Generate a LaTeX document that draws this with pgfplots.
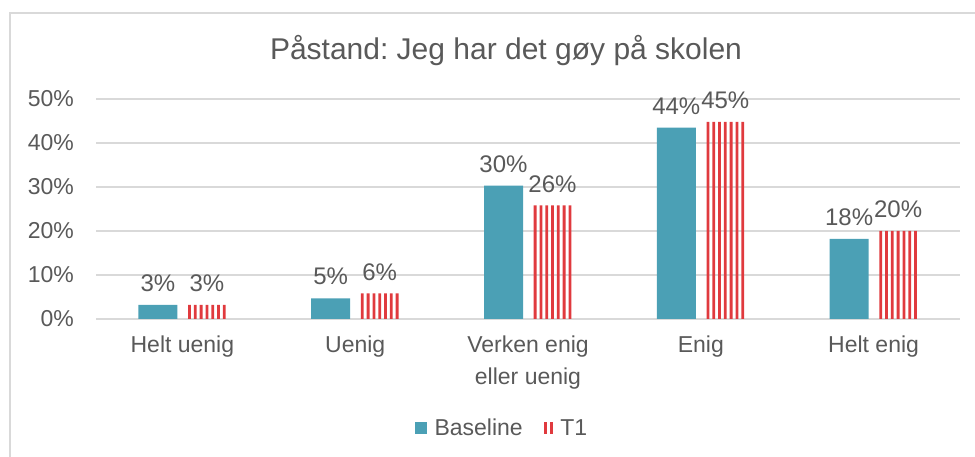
\documentclass[border=0pt]{standalone}
\usepackage{fontspec}
\setmainfont{Liberation Sans}
\usepackage{pgfplots}
\usepackage{pgfplotstable}
\pgfplotsset{compat=1.18}
\definecolor{baseC}{RGB}{75,160,181}
\definecolor{redC}{RGB}{224,58,62}
\definecolor{txt}{RGB}{89,89,89}
\definecolor{gridC}{RGB}{217,217,217}
\pgfplotstableread{
x val lab
0 3.2 3
1 4.7 5
2 30.3 30
3 43.5 44
4 18.2 18
}\baseline
\pgfplotstableread{
x val lab
0 3.2 3
1 5.8 6
2 25.8 26
3 44.8 45
4 20.0 20
}\tone
\frenchspacing
\begin{document}
\begin{tikzpicture}[x=1pt,y=1pt]
\useasboundingbox (0,0) rectangle (975,457);
\draw[gridC, line width=1.5pt] (10,0) -- (10,444) -- (975,444);
\node[txt, font=\fontsize{30}{34}\selectfont] at (506,406) {Påstand: Jeg har det gøy på skolen};
\begin{axis}[
  at={(96pt,138pt)}, anchor=south west,
  width=864pt, height=220pt, scale only axis,
  xmin=-0.5, xmax=4.5, ymin=0, ymax=50,
  ybar, bar width=39pt,
  axis line style={draw=none},
  tick style={draw=none},
  ymajorgrids, major grid style={gridC, line width=1.5pt},
  ytick={0,10,20,30,40,50},
  yticklabels={0\%,10\%,20\%,30\%,40\%,50\%},
  xtick={0,1,2,3,4},
  xticklabels={Helt uenig,Uenig,Verken enig\\eller uenig,Enig,Helt enig},
  yticklabel style={inner sep=0pt, xshift=-22pt, font=\fontsize{23}{32}\selectfont, text=txt},
  xticklabel style={inner sep=0pt, yshift=-12pt, align=center, font=\fontsize{23}{32}\selectfont, text=txt},
  point meta=explicit symbolic,
  every node near coord/.append style={font=\fontsize{24}{28}\selectfont, text=txt, inner sep=0pt, yshift=13pt},
  legend style={at={(0.47,-0.495)}, anchor=center, draw=none, fill=none,
     font=\fontsize{23}{27}\selectfont, text=txt, legend columns=2,
     /tikz/every odd column/.append style={column sep=5.5pt},
     /tikz/every even column/.append style={column sep=19pt}},
  stripe/.style={fill=redC, draw=none, bar width=2.8pt, forget plot},
]
\addplot[fill=baseC, draw=none, bar shift=-24.5pt,
  nodes near coords={\pgfplotspointmeta\%},
  legend image code/.code={\fill[baseC] (0pt,-6pt) rectangle (12pt,6pt);}]
  table[x=x, y=val, meta=lab] {\baseline};
\addlegendentry{Baseline}
\addplot[fill=redC, draw=none, bar width=2.8pt, bar shift=24.5pt,
  nodes near coords={\pgfplotspointmeta\%},
  legend image code/.code={\fill[redC] (0pt,-6pt) rectangle (3pt,6pt); \fill[redC] (6pt,-6pt) rectangle (9pt,6pt);}]
  table[x=x, y=val, meta=lab] {\tone};
\addlegendentry{T1}
\addplot[stripe, bar shift=7.1pt] table[x=x, y=val] {\tone};
\addplot[stripe, bar shift=12.9pt] table[x=x, y=val] {\tone};
\addplot[stripe, bar shift=18.7pt] table[x=x, y=val] {\tone};
\addplot[stripe, bar shift=30.3pt] table[x=x, y=val] {\tone};
\addplot[stripe, bar shift=36.1pt] table[x=x, y=val] {\tone};
\addplot[stripe, bar shift=41.9pt] table[x=x, y=val] {\tone};
\end{axis}
\end{tikzpicture}
\end{document}
